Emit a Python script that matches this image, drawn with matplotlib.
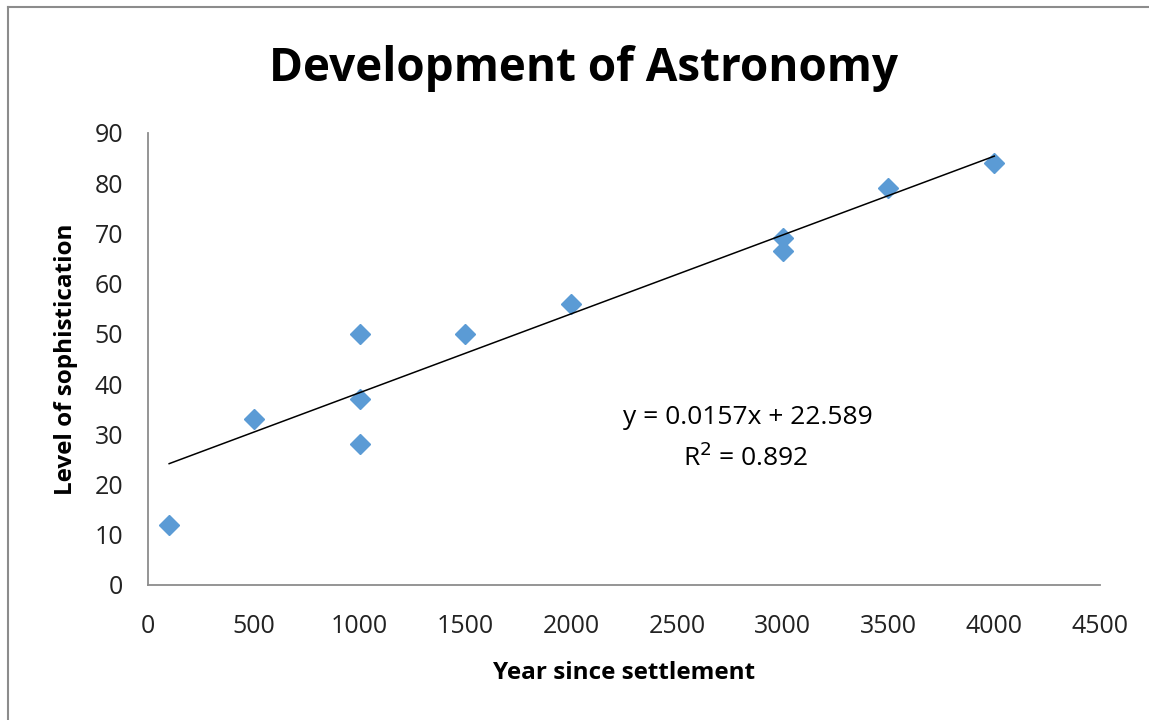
import numpy as np
import matplotlib.pyplot as plt
from matplotlib.lines import Line2D

years = [100, 500, 1000, 1000, 1000, 1500, 2000, 3000, 3000, 3500, 4000]
level = [12, 33, 50, 37, 28, 50, 56, 69, 66.5, 79, 84]

# trendline as reported on the chart
slope = 0.0157
intercept = 22.589
r_squared = 0.892
trend_x = [100, 4000]

xticks = [0, 500, 1000, 1500, 2000, 2500, 3000, 3500, 4000, 4500]
yticks = [0, 10, 20, 30, 40, 50, 60, 70, 80, 90]

plt.rcParams['font.family'] = ['Open Sans', 'DejaVu Sans']

fig = plt.figure(figsize=(11.49, 7.2), dpi=100)
ax = fig.add_axes([0.1288, 0.1875, 0.8286, 0.6278])

ax.plot(years, level, ls='none', marker='D', markersize=10,
        color='#5B9BD5', zorder=3)
tx = np.array(trend_x)
ax.plot(tx, slope * tx + intercept, color='black', lw=1.1, zorder=4)

ax.set_xlim(0, 4500)
ax.set_ylim(0, 90)
ax.set_xticks(xticks)
ax.set_yticks(yticks)
ax.tick_params(length=0, labelsize=18, colors='#222222')
ax.tick_params(axis='x', pad=21)
ax.tick_params(axis='y', pad=18)

for s in ['top', 'right']:
    ax.spines[s].set_visible(False)
for s in ['left', 'bottom']:
    ax.spines[s].set_color('#8c8c8c')
    ax.spines[s].set_linewidth(1.3)

ax.set_xlabel('Year since settlement', fontsize=17.5, fontweight='bold', labelpad=16)
ax.set_ylabel('Level of sophistication', fontsize=17.5, fontweight='bold', labelpad=12)

fig.text(0.5075, 0.905, 'Development of Astronomy', ha='center', va='center',
         fontsize=33, fontweight='bold')

ax.text(2836, 33.3, 'y = %.4fx + %.3f' % (slope, intercept), ha='center',
        va='center', fontsize=19)
ax.text(2825, 25.3, 'R$^2$ = %.3f' % r_squared, ha='center', va='center',
        fontsize=19)

# outer chart frame (top and left visible)
fig.add_artist(Line2D([8 / 1149, 1.01], [1 - 7 / 720, 1 - 7 / 720],
                      transform=fig.transFigure, color='#8c8c8c', lw=1.5))
fig.add_artist(Line2D([8 / 1149, 8 / 1149], [1 - 7 / 720, -0.01],
                      transform=fig.transFigure, color='#8c8c8c', lw=1.5))

fig.savefig('out.png', dpi=100)
